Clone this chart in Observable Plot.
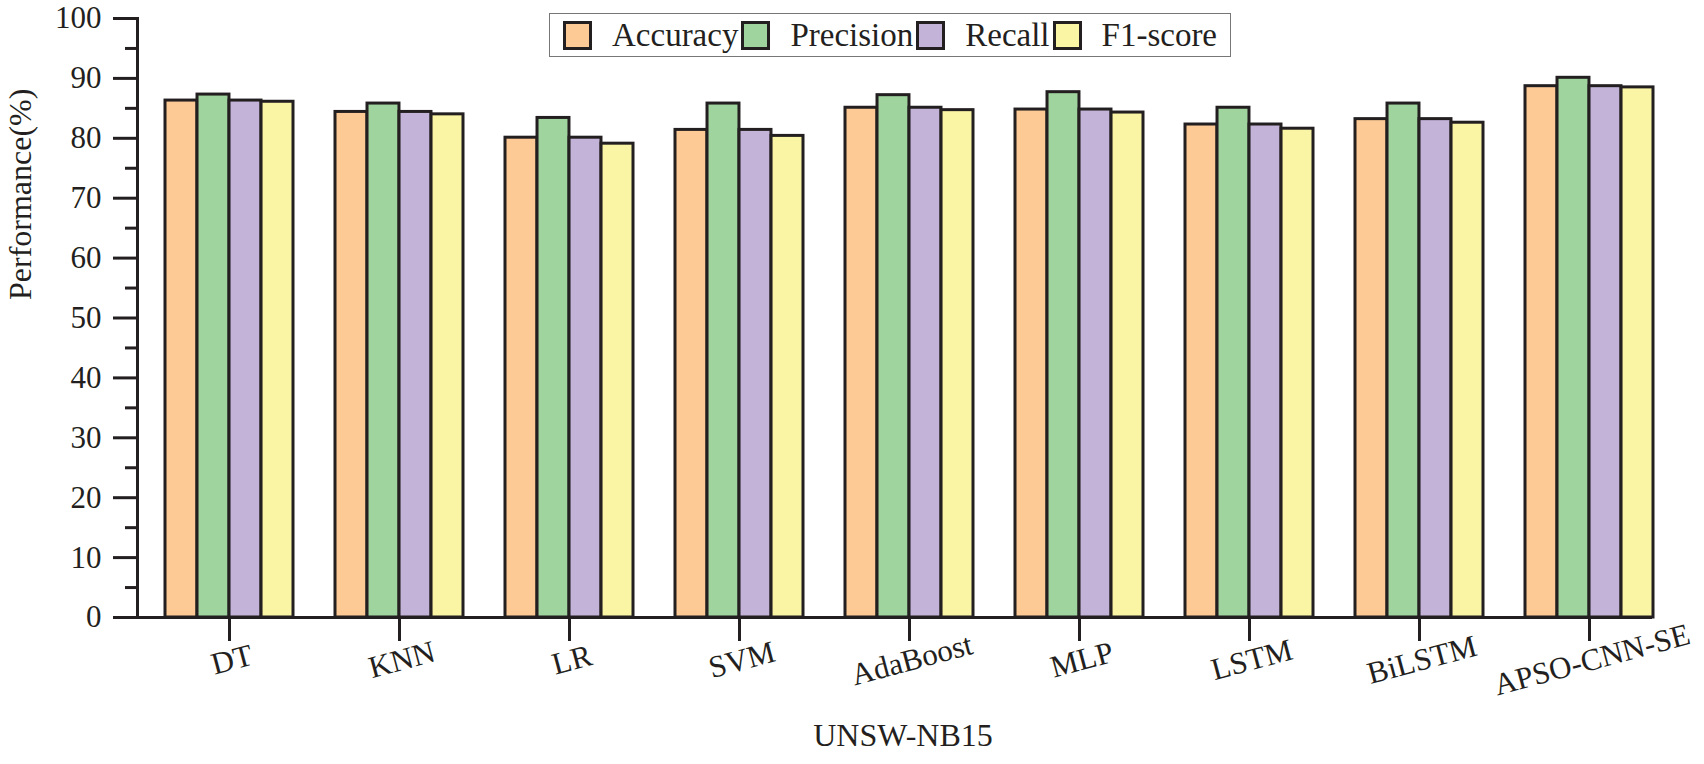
<!DOCTYPE html>
<html>
<head>
<meta charset="utf-8">
<script src="https://cdn.jsdelivr.net/npm/d3@7"></script>
<script src="https://cdn.jsdelivr.net/npm/@observablehq/plot@0.6"></script>
<style>
  html, body { margin: 0; padding: 0; background: #fff; }
  #wrap { position: relative; width: 1704px; height: 764px; font-family: "Liberation Serif", "Times New Roman", serif; color: #231f20; }
  #legend { position: absolute; left: 549px; top: 13px; height: 42px; border: 1.5px solid #777; background: #fff;
            display: flex; align-items: center; padding: 0 10px 0 13px; font-size: 33px; white-space: nowrap; }
  #legend .sw { width: 23px; height: 23px; border: 3px solid #231f20; margin-right: 20px; }
  #legend .lab { margin-right: 3px; }
</style>
</head>
<body>
<div id="wrap"><div id="chart"></div><div id="legend"></div></div>
<script>
const categories = ["DT", "KNN", "LR", "SVM", "AdaBoost", "MLP", "LSTM", "BiLSTM", "APSO-CNN-SE"];
const metrics = ["Accuracy", "Precision", "Recall", "F1-score"];
const accuracy  = [86.3, 84.4, 80.1, 81.4, 85.1, 84.8, 82.3, 83.2, 88.7];
const precision = [87.3, 85.8, 83.4, 85.8, 87.2, 87.7, 85.1, 85.8, 90.1];
const recall    = [86.3, 84.4, 80.1, 81.4, 85.1, 84.8, 82.3, 83.2, 88.7];
const f1score   = [86.1, 84.0, 79.1, 80.4, 84.7, 84.3, 81.6, 82.6, 88.5];
const colors = ["#FDCA95", "#9FD49E", "#C3B3D8", "#FAF5A5"];
const yTicks = [0, 10, 20, 30, 40, 50, 60, 70, 80, 90, 100];
const yMinor = [5, 15, 25, 35, 45, 55, 65, 75, 85, 95];
const xTitle = "UNSW-NB15";
const yTitle = "Performance(%)";

const series = [accuracy, precision, recall, f1score];
const rows = [];
metrics.forEach((m, i) => categories.forEach((c, j) => rows.push({category: c, metric: m, value: series[i][j]})));

const W = 1704, H = 764, ML = 137, MR = 52, MT = 18, MB = 147;
const pI = 0.25, pO = 0.0615;
const step = (W - ML - MR) / (categories.length - pI + 2 * pO);
const bw = step * (1 - pI);
const sub = bw / 4;
const ink = "#231f20";

const bars = metrics.map((m, i) => Plot.barY(rows.filter(d => d.metric === m), {
  x: "category", y: "value", fill: colors[i], stroke: ink, strokeWidth: 3,
  insetLeft: i * sub, insetRight: (3 - i) * sub
}));

const chart = Plot.plot({
  width: W, height: H,
  marginLeft: ML, marginRight: MR, marginTop: MT, marginBottom: MB,
  style: {fontFamily: "Liberation Serif, Times New Roman, serif", fontSize: "31px", color: ink, background: "#fff"},
  x: {domain: categories, paddingInner: pI, paddingOuter: pO, align: 1},
  y: {domain: [0, 100]},
  marks: [
    ...bars,
    Plot.axisY({ticks: yTicks, tickSize: 24, tickPadding: 12, strokeWidth: 3, fontSize: 31, label: null}),
    Plot.axisY({ticks: yMinor, tickSize: 12, tickFormat: () => "", strokeWidth: 3, label: null}),
    Plot.axisX({tickSize: 24, tickFormat: () => "", strokeWidth: 3, label: null}),
    Plot.text(categories, {x: d => d, text: d => d, frameAnchor: "bottom", dy: 52, dx: 5, rotate: -15, fontSize: 31, fill: ink}),
    Plot.ruleY([0], {stroke: ink, strokeWidth: 3}),
    Plot.frame({anchor: "left", stroke: ink, strokeWidth: 3}),
    Plot.text([yTitle], {text: d => d, frameAnchor: "left", dx: -117, dy: -18, rotate: -90, fontSize: 32, fill: ink}),
    Plot.text([xTitle], {text: d => d, frameAnchor: "bottom", dy: 128, dx: 8, fontSize: 32, fill: ink})
  ]
});
document.getElementById("chart").appendChild(chart);

const legend = document.getElementById("legend");
metrics.forEach((m, i) => {
  const sw = document.createElement("div");
  sw.className = "sw";
  sw.style.background = colors[i];
  const lab = document.createElement("span");
  lab.className = "lab";
  lab.textContent = m;
  legend.appendChild(sw);
  legend.appendChild(lab);
});
</script>
</body>
</html>
